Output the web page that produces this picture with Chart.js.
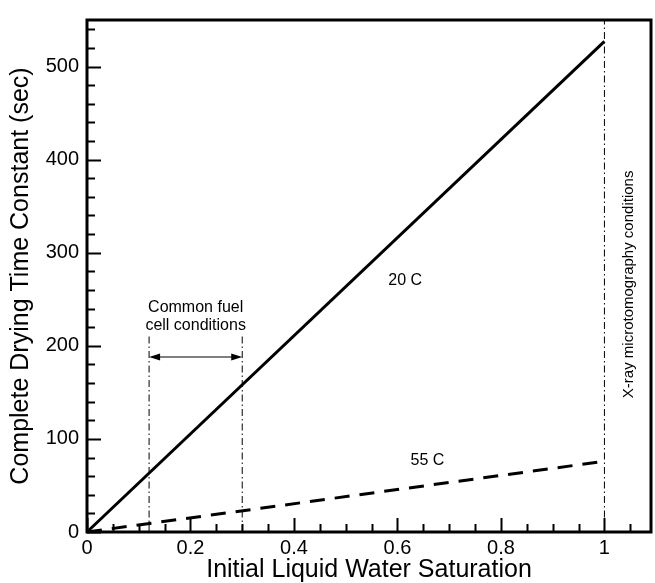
<!DOCTYPE html>
<html>
<head>
<meta charset="utf-8">
<script src="https://cdn.jsdelivr.net/npm/chart.js@4/dist/chart.umd.min.js"></script>
<style>
  html, body { margin: 0; padding: 0; background: #fff; }
  canvas { display: block; }
</style>
</head>
<body>
<canvas id="c" width="655" height="583"></canvas>
<script>
// Drying time constant vs. initial liquid water saturation
const saturation = [0, 1];
const dryingTime20C = [0, 527];
const dryingTime55C = [0, 76];

// Reference markers
const fuelCellRange = [0.12, 0.30];   // common fuel cell conditions
const fuelCellMarkerTop = 213;
const fuelCellArrowLevel = 188;
const xraySaturation = 1;

// Axis ticks
const xTickValues = [0, 0.2, 0.4, 0.6, 0.8, 1];
const xTickLabels = ['0', '0.2', '0.4', '0.6', '0.8', '1'];
const yTickValues = [0, 100, 200, 300, 400, 500];
const yTickLabels = ['0', '100', '200', '300', '400', '500'];
const xMinorStep = 0.05;
const yMinorStep = 20;
const xMax = 1.09;
const yMax = 550;

// Text annotations: [text, x, y]
const curveLabels = [
  ['20 C', 0.615, 270],
  ['55 C', 0.658, 77]
];
const fuelCellLabel = [['Common fuel', 0.21, 241], ['cell conditions', 0.21, 222]];
const xrayLabel = ['X-ray microtomography conditions', 1.047, 266];

const FONT = '"Liberation Sans", Arial, Helvetica, sans-serif';

const toPoints = (xs, ys) => xs.map((x, i) => ({ x, y: ys[i] }));
const dashDot = [7, 3, 1.5, 3];

const datasets = [
  { data: toPoints(saturation, dryingTime20C), borderColor: '#000', borderWidth: 3 },
  { data: toPoints(saturation, dryingTime55C), borderColor: '#000', borderWidth: 3, borderDash: [15, 10] },
  { data: [{ x: fuelCellRange[0], y: 0 }, { x: fuelCellRange[0], y: fuelCellMarkerTop }], borderColor: '#000', borderWidth: 1, borderDash: dashDot },
  { data: [{ x: fuelCellRange[1], y: 0 }, { x: fuelCellRange[1], y: fuelCellMarkerTop }], borderColor: '#000', borderWidth: 1, borderDash: dashDot },
  { data: [{ x: xraySaturation, y: 0 }, { x: xraySaturation, y: yMax }], borderColor: '#000', borderWidth: 1, borderDash: dashDot }
].map(d => Object.assign({ showLine: true, pointRadius: 0, fill: false, tension: 0, clip: false }, d));

// Frame, inward ticks, arrow and text labels
const decorations = {
  id: 'decorations',
  afterDatasetsDraw(chart) {
    const { ctx, chartArea: a, scales: { x, y } } = chart;
    ctx.save();
    ctx.strokeStyle = '#000';
    ctx.fillStyle = '#000';

    // ticks
    ctx.lineWidth = 2;
    ctx.beginPath();
    for (let v = 0; v <= xMax + 1e-9; v += xMinorStep) {
      const major = xTickValues.some(t => Math.abs(t - v) < 1e-6);
      const px = Math.round(x.getPixelForValue(v)) + 0.5;
      ctx.moveTo(px, a.bottom);
      ctx.lineTo(px, a.bottom - (major ? 14 : 8));
    }
    for (let v = 0; v <= yMax + 1e-9; v += yMinorStep) {
      const major = yTickValues.some(t => Math.abs(t - v) < 1e-6);
      const py = Math.round(y.getPixelForValue(v)) + 0.5;
      ctx.moveTo(a.left, py);
      ctx.lineTo(a.left + (major ? 14 : 8), py);
    }
    ctx.stroke();

    // frame
    ctx.lineWidth = 3;
    ctx.strokeRect(a.left, a.top, a.right - a.left, a.bottom - a.top);

    // double arrow across the fuel cell range
    const x0 = x.getPixelForValue(fuelCellRange[0]);
    const x1 = x.getPixelForValue(fuelCellRange[1]);
    const ya = y.getPixelForValue(fuelCellArrowLevel);
    ctx.lineWidth = 1.2;
    ctx.beginPath();
    ctx.moveTo(x0 + 6, ya);
    ctx.lineTo(x1 - 6, ya);
    ctx.stroke();
    ctx.beginPath();
    ctx.moveTo(x0, ya); ctx.lineTo(x0 + 11, ya - 3.5); ctx.lineTo(x0 + 11, ya + 3.5); ctx.closePath();
    ctx.moveTo(x1, ya); ctx.lineTo(x1 - 11, ya - 3.5); ctx.lineTo(x1 - 11, ya + 3.5); ctx.closePath();
    ctx.fill();

    // labels
    ctx.textAlign = 'center';
    ctx.textBaseline = 'middle';
    ctx.font = '16px ' + FONT;
    curveLabels.concat(fuelCellLabel).forEach(([t, vx, vy]) => {
      ctx.fillText(t, x.getPixelForValue(vx), y.getPixelForValue(vy));
    });
    ctx.font = '15px ' + FONT;
    ctx.translate(x.getPixelForValue(xrayLabel[1]), y.getPixelForValue(xrayLabel[2]));
    ctx.rotate(-Math.PI / 2);
    ctx.fillText(xrayLabel[0], 0, 0);
    ctx.restore();
  }
};

new Chart(document.getElementById('c'), {
  type: 'scatter',
  data: { datasets },
  options: {
    responsive: false,
    animation: false,
    layout: { padding: { top: 14, right: 4, left: 0, bottom: 0 } },
    plugins: { legend: { display: false }, tooltip: { enabled: false } },
    scales: {
      x: {
        type: 'linear', min: 0, max: xMax,
        grid: { display: false, drawTicks: false },
        border: { display: false },
        afterBuildTicks: s => { s.ticks = xTickValues.map(value => ({ value })); },
        ticks: {
          color: '#000', padding: 4, maxRotation: 0, autoSkip: false,
          font: { family: FONT, size: 20 },
          callback: v => xTickLabels[xTickValues.findIndex(t => Math.abs(t - v) < 1e-6)] ?? ''
        },
        title: {
          display: true, text: 'Initial Liquid Water Saturation', color: '#000',
          font: { family: FONT, size: 25, lineHeight: 1 }, padding: { top: 0, bottom: 0 }
        },
        afterFit: s => { s.height = 51; }
      },
      y: {
        type: 'linear', min: 0, max: yMax,
        grid: { display: false, drawTicks: false },
        border: { display: false },
        afterBuildTicks: s => { s.ticks = yTickValues.map(value => ({ value })); },
        ticks: {
          color: '#000', padding: 8, autoSkip: false,
          font: { family: FONT, size: 20 },
          callback: v => yTickLabels[yTickValues.findIndex(t => Math.abs(t - v) < 1e-6)] ?? ''
        },
        title: {
          display: true, text: 'Complete Drying Time Constant (sec)', color: '#000',
          font: { family: FONT, size: 25, lineHeight: 1 }, padding: { top: 9, bottom: 0 }
        },
        afterFit: s => { s.width = 87; }
      }
    }
  },
  plugins: [decorations]
});
</script>
</body>
</html>
